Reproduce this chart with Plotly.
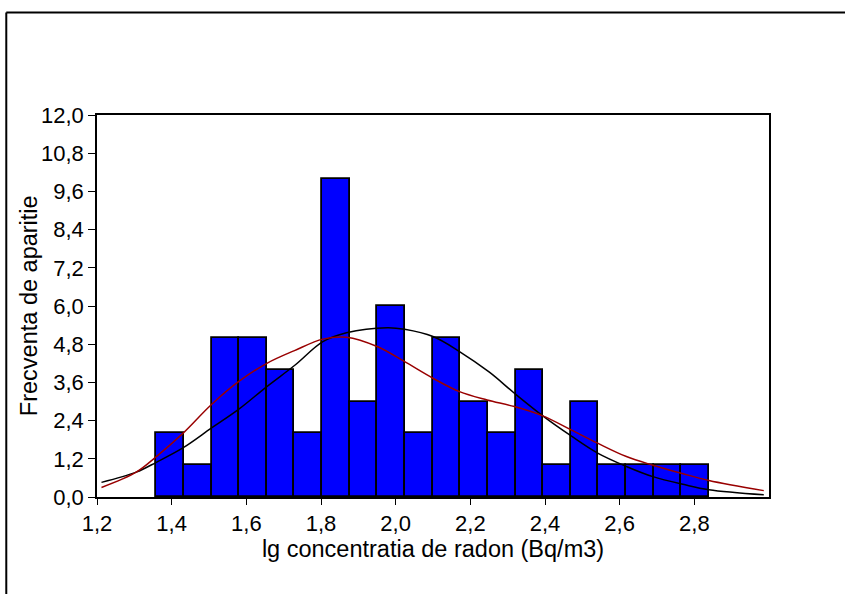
import plotly.graph_objects as go

# Histogram bins (centres) and counts
bin_width = 0.074
bin_centers = [1.396, 1.470, 1.544, 1.618, 1.692, 1.766, 1.840, 1.914, 1.988, 2.062,
               2.136, 2.210, 2.284, 2.358, 2.432, 2.506, 2.580, 2.654, 2.728, 2.802]
counts = [2, 1, 5, 5, 4, 2, 10, 3, 6, 2, 5, 3, 2, 4, 1, 3, 1, 1, 1, 1]

# Fitted normal curve (black)
normal_x = [1.212, 1.305, 1.359, 1.430, 1.506, 1.580, 1.655, 1.729, 1.805, 1.868, 1.978,
            2.024, 2.100, 2.171, 2.251, 2.318, 2.394, 2.470, 2.541, 2.618, 2.689, 2.773,
            2.839, 2.986]
normal_y = [0.46, 0.78, 1.09, 1.54, 2.16, 2.76, 3.47, 4.13, 4.88, 5.16, 5.32,
            5.27, 5.04, 4.57, 3.92, 3.26, 2.55, 1.92, 1.38, 0.96, 0.64, 0.39,
            0.23, 0.07]

# Kernel density curve (dark red)
kde_x = [1.212, 1.305, 1.359, 1.430, 1.506, 1.580, 1.655, 1.729, 1.805, 1.868, 1.952,
         2.024, 2.100, 2.171, 2.245, 2.318, 2.394, 2.470, 2.541, 2.618, 2.689, 2.770,
         2.839, 2.986]
kde_y = [0.30, 0.78, 1.27, 2.00, 2.90, 3.63, 4.20, 4.60, 4.96, 5.02, 4.72,
         4.25, 3.73, 3.31, 3.05, 2.84, 2.55, 2.11, 1.69, 1.27, 1.00, 0.73,
         0.52, 0.20]

x_tickvals = [1.2, 1.4, 1.6, 1.8, 2.0, 2.2, 2.4, 2.6, 2.8]
x_ticktext = ["1,2", "1,4", "1,6", "1,8", "2,0", "2,2", "2,4", "2,6", "2,8"]
y_tickvals = [0.0, 1.2, 2.4, 3.6, 4.8, 6.0, 7.2, 8.4, 9.6, 10.8, 12.0]
y_ticktext = ["0,0", "1,2", "2,4", "3,6", "4,8", "6,0", "7,2", "8,4", "9,6", "10,8", "12,0"]

x_title = "lg concentratia de radon (Bq/m3)"
y_title = "Frecventa de aparitie"

FONT = "Liberation Sans, Arial, sans-serif"

fig = go.Figure()
fig.add_trace(go.Bar(
    x=bin_centers, y=counts, width=bin_width,
    marker=dict(color="#0000FF", line=dict(color="black", width=1.8)),
    showlegend=False, hoverinfo="x+y",
))
fig.add_trace(go.Scatter(
    x=normal_x, y=normal_y, mode="lines",
    line=dict(color="black", width=1.5, shape="spline", smoothing=1.0),
    showlegend=False,
))
fig.add_trace(go.Scatter(
    x=kde_x, y=kde_y, mode="lines",
    line=dict(color="#990000", width=1.5, shape="spline", smoothing=1.0),
    showlegend=False,
))

fig.update_layout(
    width=845, height=594,
    margin=dict(l=97, r=76, t=115, b=97),
    paper_bgcolor="white", plot_bgcolor="white",
    font=dict(family=FONT, size=22, color="black"),
    bargap=0,
    shapes=[
        dict(type="line", xref="paper", yref="paper",
             x0=-0.135, x1=1.2, y0=1.268, y1=1.268,
             line=dict(color="black", width=2)),
        dict(type="line", xref="paper", yref="paper",
             x0=-0.135, x1=-0.135, y0=1.268, y1=-0.3,
             line=dict(color="black", width=2)),
    ],
    annotations=[
        dict(text=y_title, xref="paper", yref="paper", x=-0.101, y=0.5,
             xanchor="center", yanchor="middle", textangle=-90, showarrow=False,
             font=dict(family=FONT, size=23.5, color="black")),
    ],
)
fig.update_xaxes(
    range=[1.2, 3.0], tickvals=x_tickvals, ticktext=x_ticktext,
    ticks="outside", ticklen=6, tickwidth=1, tickcolor="black",
    tickfont=dict(family=FONT, size=22),
    showline=True, linecolor="black", linewidth=1.5, mirror=True,
    showgrid=False, zeroline=False,
    title=dict(text=x_title, standoff=2,
               font=dict(family=FONT, size=23.5)),
)
fig.update_yaxes(
    range=[0, 12.0], tickvals=y_tickvals, ticktext=y_ticktext,
    ticks="outside", ticklen=7, tickwidth=1, tickcolor="black",
    tickfont=dict(family=FONT, size=22),
    showline=True, linecolor="black", linewidth=1.5, mirror=True,
    showgrid=False, zeroline=False,
)

fig.write_html("out.html")
